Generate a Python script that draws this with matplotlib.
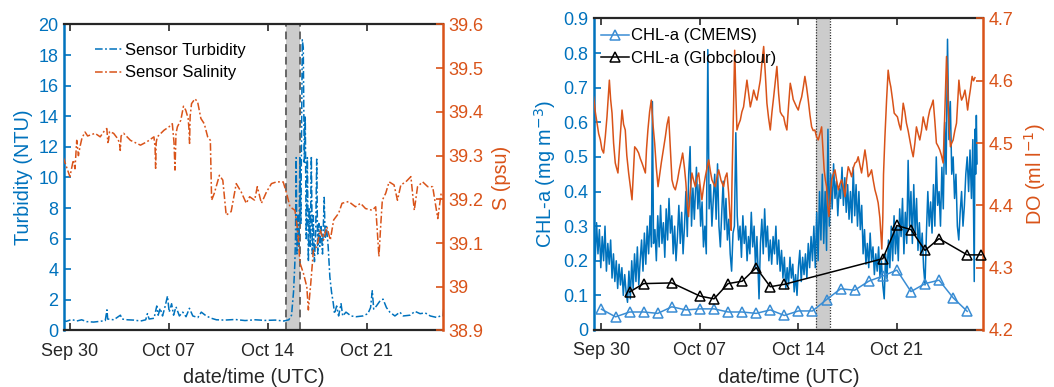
import numpy as np
import matplotlib
matplotlib.use("Agg")
import matplotlib.pyplot as plt
import matplotlib.dates as mdates
from matplotlib.ticker import FuncFormatter

plt.rcParams['font.family'] = ['Liberation Sans', 'DejaVu Sans']

# ---------------- data (days since 30 Sep, values) ----------------
START = np.datetime64('2019-09-30T00:00')

turbidity = [(-0.48, 0.65), (-0.24, 0.60), (0.12, 0.72), (0.48, 0.62), (0.83, 0.70), (1.19, 0.58),
             (1.67, 0.55), (2.14, 0.60), (2.50, 0.65), (2.62, 1.35), (2.67, 0.75), (3.10, 0.70),
             (3.57, 1.00), (3.69, 0.75), (4.05, 0.70), (4.52, 0.68), (5.00, 0.62), (5.36, 0.70),
             (5.48, 1.10), (5.60, 0.75), (5.95, 0.80), (6.14, 1.60), (6.24, 1.00), (6.38, 1.45),
             (6.55, 0.95), (6.71, 1.50), (6.90, 2.25), (7.02, 1.20), (7.19, 1.75), (7.33, 1.00),
             (7.50, 1.55), (7.74, 0.95), (7.98, 1.20), (8.21, 0.90), (8.45, 1.45), (8.69, 0.95),
             (9.05, 0.85), (9.29, 1.20), (9.64, 0.95), (10.00, 0.80), (10.36, 0.70), (10.95, 0.68),
             (11.67, 0.72), (12.38, 0.65), (13.10, 0.70), (13.81, 0.66), (14.52, 0.68), (15.12, 0.62),
             (15.48, 0.70), (15.67, 1.00), (15.81, 2.50), (15.90, 4.30), (15.95, 6.00), (16.00, 11.3),
             (16.05, 5.00), (16.12, 7.50), (16.19, 5.50), (16.26, 11.3), (16.33, 7.00), (16.43, 19.0),
             (16.50, 18.5), (16.57, 11.0), (16.64, 14.0), (16.71, 6.00), (16.79, 11.3), (16.86, 4.50),
             (16.93, 8.00), (17.00, 5.50), (17.07, 11.4), (17.14, 5.00), (17.21, 7.50), (17.29, 4.50),
             (17.38, 6.50), (17.45, 11.2), (17.52, 5.00), (17.60, 7.00), (17.67, 5.50), (17.76, 6.80),
             (17.86, 5.00), (17.98, 8.70), (18.05, 6.00), (18.14, 6.80), (18.26, 5.50), (18.38, 3.50),
             (18.50, 2.50), (18.62, 1.80), (18.71, 1.10), (18.86, 1.60), (19.00, 0.95), (19.17, 1.75),
             (19.29, 0.95), (19.52, 1.20), (19.88, 0.95), (20.24, 0.90), (20.71, 0.95), (21.07, 1.10),
             (21.26, 1.50), (21.38, 2.60), (21.48, 1.40), (21.67, 1.60), (21.90, 1.90), (22.14, 2.05),
             (22.38, 1.50), (22.62, 1.20), (22.98, 0.95), (23.33, 1.20), (23.57, 0.95), (24.05, 1.00),
             (24.40, 1.25), (24.76, 1.10), (25.12, 1.15), (25.48, 0.95), (25.95, 0.85), (26.19, 0.95),
             (26.38, 0.95), (26.48, 1.90)]

salinity = [(-0.48, 39.297), (-0.24, 39.274), (0.00, 39.252), (0.24, 39.290), (0.36, 39.270), (0.48, 39.335),
            (0.60, 39.300), (0.71, 39.320), (0.85, 39.340), (1.07, 39.354), (1.25, 39.345), (1.43, 39.347),
            (1.78, 39.351), (2.14, 39.343), (2.40, 39.355), (2.61, 39.362), (2.68, 39.330), (2.73, 39.335),
            (2.80, 39.355), (3.09, 39.351), (3.35, 39.340), (3.50, 39.330), (3.56, 39.312), (3.62, 39.345),
            (3.80, 39.351), (4.28, 39.335), (4.99, 39.324), (5.46, 39.332), (5.94, 39.343), (6.02, 39.320),
            (6.06, 39.271), (6.10, 39.330), (6.18, 39.343), (6.40, 39.350), (6.65, 39.358), (7.01, 39.366),
            (7.24, 39.373), (7.36, 39.330), (7.43, 39.267), (7.50, 39.350), (7.60, 39.366), (7.84, 39.381),
            (8.03, 39.413), (8.19, 39.404), (8.36, 39.385), (8.42, 39.360), (8.46, 39.328), (8.50, 39.390),
            (8.60, 39.419), (8.84, 39.430), (9.03, 39.423), (9.26, 39.385), (9.50, 39.373), (9.74, 39.343),
            (9.93, 39.335), (10.02, 39.198), (10.21, 39.214), (10.57, 39.255), (10.81, 39.244), (11.05, 39.164),
            (11.40, 39.172), (11.76, 39.236), (12.11, 39.217), (12.47, 39.191), (12.71, 39.206), (13.06, 39.198),
            (13.25, 39.229), (13.54, 39.191), (13.90, 39.217), (14.25, 39.236), (14.61, 39.240), (15.08, 39.240),
            (15.32, 39.214), (15.56, 39.183), (15.91, 39.175), (16.10, 39.130), (16.27, 39.054), (16.51, 39.031),
            (16.75, 39.000), (16.86, 38.947), (17.03, 39.008), (17.22, 39.084), (17.46, 39.092), (17.70, 39.130),
            (17.93, 39.107), (18.17, 39.137), (18.41, 39.107), (18.65, 39.153), (19.00, 39.168), (19.24, 39.191),
            (19.71, 39.195), (20.19, 39.183), (20.55, 39.191), (20.90, 39.179), (21.38, 39.175), (21.62, 39.183),
            (21.73, 39.130), (21.85, 39.069), (21.97, 39.137), (22.09, 39.198), (22.33, 39.214), (22.57, 39.240),
            (22.92, 39.233), (23.16, 39.198), (23.40, 39.233), (23.75, 39.240), (24.11, 39.252), (24.35, 39.175),
            (24.58, 39.229), (24.94, 39.240), (25.30, 39.229), (25.65, 39.229), (26.01, 39.156), (26.25, 39.214),
            (26.38, 39.210)]

chl_sensor = [(-0.53, 0.30), (-0.45, 0.20), (-0.35, 0.31), (-0.25, 0.22), (-0.15, 0.29), (-0.05, 0.18),
              (0.05, 0.27), (0.15, 0.20), (0.25, 0.30), (0.35, 0.17), (0.45, 0.25), (0.55, 0.19),
              (0.65, 0.26), (0.75, 0.15), (0.85, 0.22), (0.95, 0.14), (1.05, 0.20), (1.15, 0.12),
              (1.25, 0.19), (1.35, 0.13), (1.45, 0.18), (1.55, 0.10), (1.65, 0.16), (1.75, 0.11),
              (1.85, 0.08), (1.95, 0.17), (2.05, 0.09), (2.15, 0.20), (2.25, 0.12), (2.35, 0.22),
              (2.45, 0.14), (2.55, 0.24), (2.65, 0.13), (2.75, 0.20), (2.85, 0.26), (2.95, 0.17),
              (3.05, 0.28), (3.15, 0.19), (3.25, 0.30), (3.35, 0.22), (3.45, 0.33), (3.55, 0.24),
              (3.62, 0.66), (3.70, 0.25), (3.80, 0.29), (3.90, 0.20), (4.00, 0.33), (4.10, 0.24),
              (4.20, 0.36), (4.30, 0.25), (4.40, 0.31), (4.50, 0.21), (4.60, 0.35), (4.70, 0.26),
              (4.80, 0.38), (4.90, 0.28), (5.00, 0.33), (5.10, 0.22), (5.20, 0.30), (5.30, 0.20),
              (5.40, 0.27), (5.50, 0.36), (5.60, 0.25), (5.70, 0.34), (5.80, 0.22), (5.90, 0.30),
              (6.00, 0.40), (6.10, 0.27), (6.20, 0.45), (6.30, 0.53), (6.40, 0.30), (6.50, 0.41),
              (6.60, 0.32), (6.75, 0.47), (6.85, 0.35), (6.95, 0.42), (7.05, 0.30), (7.15, 0.37),
              (7.25, 0.24), (7.35, 0.30), (7.45, 0.22), (7.56, 0.81), (7.65, 0.35), (7.75, 0.42),
              (7.85, 0.30), (7.95, 0.38), (8.05, 0.45), (8.15, 0.32), (8.25, 0.48), (8.35, 0.30),
              (8.45, 0.24), (8.55, 0.34), (8.65, 0.43), (8.75, 0.29), (8.85, 0.38), (8.95, 0.26),
              (9.05, 0.32), (9.15, 0.22), (9.25, 0.17), (9.35, 0.28), (9.45, 0.30), (9.55, 0.57),
              (9.65, 0.33), (9.75, 0.26), (9.85, 0.30), (9.95, 0.21), (10.05, 0.33), (10.15, 0.25),
              (10.25, 0.30), (10.35, 0.20), (10.45, 0.27), (10.55, 0.22), (10.65, 0.34), (10.75, 0.24),
              (10.85, 0.30), (10.95, 0.18), (11.05, 0.27), (11.20, 0.09), (11.30, 0.25), (11.40, 0.32),
              (11.50, 0.22), (11.60, 0.35), (11.70, 0.24), (11.80, 0.30), (11.90, 0.20), (12.00, 0.26),
              (12.10, 0.19), (12.20, 0.27), (12.30, 0.22), (12.40, 0.30), (12.50, 0.19), (12.60, 0.26),
              (12.70, 0.17), (12.80, 0.23), (12.90, 0.15), (13.00, 0.21), (13.10, 0.12), (13.20, 0.18),
              (13.30, 0.13), (13.40, 0.21), (13.50, 0.15), (13.60, 0.19), (13.70, 0.11), (13.80, 0.16),
              (13.90, 0.10), (14.00, 0.18), (14.10, 0.23), (14.20, 0.14), (14.30, 0.21), (14.40, 0.16),
              (14.50, 0.22), (14.60, 0.15), (14.70, 0.25), (14.80, 0.18), (14.90, 0.27), (15.00, 0.20),
              (15.10, 0.30), (15.20, 0.18), (15.30, 0.34), (15.40, 0.20), (15.50, 0.40), (15.60, 0.26),
              (15.70, 0.45), (15.80, 0.25), (15.90, 0.40), (16.00, 0.23), (16.10, 0.58), (16.20, 0.30),
              (16.30, 0.45), (16.40, 0.35), (16.50, 0.48), (16.60, 0.38), (16.70, 0.43), (16.80, 0.33),
              (16.90, 0.41), (17.00, 0.38), (17.10, 0.47), (17.20, 0.36), (17.30, 0.44), (17.40, 0.34),
              (17.50, 0.42), (17.60, 0.32), (17.70, 0.40), (17.80, 0.31), (17.90, 0.47), (18.00, 0.33),
              (18.10, 0.42), (18.20, 0.30), (18.30, 0.40), (18.40, 0.29), (18.50, 0.36), (18.60, 0.22),
              (18.70, 0.29), (18.80, 0.19), (18.90, 0.25), (19.00, 0.18), (19.10, 0.28), (19.20, 0.20),
              (19.30, 0.24), (19.40, 0.16), (19.50, 0.22), (19.60, 0.17), (19.70, 0.24), (19.80, 0.15),
              (19.90, 0.20), (20.00, 0.13), (20.10, 0.09), (20.20, 0.22), (20.30, 0.15), (20.40, 0.26),
              (20.50, 0.18), (20.60, 0.30), (20.70, 0.20), (20.80, 0.33), (20.90, 0.22), (21.00, 0.30),
              (21.10, 0.20), (21.20, 0.35), (21.30, 0.27), (21.40, 0.38), (21.50, 0.22), (21.60, 0.34),
              (21.70, 0.25), (21.80, 0.49), (21.90, 0.30), (22.00, 0.40), (22.10, 0.25), (22.20, 0.42),
              (22.30, 0.28), (22.40, 0.38), (22.50, 0.23), (22.60, 0.31), (22.70, 0.22), (22.80, 0.28),
              (22.90, 0.18), (23.00, 0.13), (23.10, 0.28), (23.20, 0.40), (23.30, 0.30), (23.40, 0.37),
              (23.50, 0.28), (23.60, 0.42), (23.70, 0.30), (23.80, 0.50), (23.90, 0.36), (24.00, 0.40),
              (24.10, 0.30), (24.20, 0.47), (24.30, 0.35), (24.40, 0.60), (24.50, 0.45), (24.60, 0.84),
              (24.70, 0.55), (24.80, 0.66), (24.90, 0.45), (25.00, 0.50), (25.10, 0.38), (25.20, 0.45),
              (25.30, 0.30), (25.40, 0.26), (25.50, 0.34), (25.60, 0.40), (25.70, 0.30), (25.80, 0.36),
              (25.90, 0.45), (26.00, 0.50), (26.10, 0.40), (26.20, 0.52), (26.30, 0.38), (26.40, 0.55),
              (26.50, 0.14), (26.55, 0.58), (26.60, 0.45), (26.65, 0.62), (26.70, 0.48)]

dissolved_oxygen = [(-0.56, 4.574), (-0.44, 4.550), (-0.32, 4.532), (-0.20, 4.515), (-0.08, 4.505), (0.03, 4.490),
                    (0.15, 4.484), (0.27, 4.510), (0.39, 4.542), (0.47, 4.570), (0.56, 4.601), (0.65, 4.570),
                    (0.75, 4.548), (0.86, 4.500), (0.98, 4.468), (1.07, 4.460), (1.17, 4.452), (1.30, 4.500),
                    (1.46, 4.553), (1.57, 4.530), (1.69, 4.521), (1.80, 4.480), (1.93, 4.452), (2.05, 4.430),
                    (2.17, 4.409), (2.26, 4.450), (2.36, 4.494), (2.50, 4.490), (2.64, 4.484), (2.76, 4.475),
                    (2.88, 4.468), (3.00, 4.460), (3.12, 4.452), (3.20, 4.490), (3.30, 4.521), (3.42, 4.550),
                    (3.54, 4.569), (3.66, 4.530), (3.78, 4.500), (3.90, 4.460), (4.02, 4.430), (4.14, 4.450),
                    (4.25, 4.468), (4.40, 4.490), (4.54, 4.510), (4.66, 4.530), (4.78, 4.542), (4.90, 4.490),
                    (5.01, 4.441), (5.13, 4.430), (5.25, 4.425), (5.40, 4.440), (5.53, 4.457), (5.65, 4.470),
                    (5.77, 4.484), (5.90, 4.460), (6.00, 4.436), (6.10, 4.400), (6.19, 4.382), (6.30, 4.420),
                    (6.43, 4.452), (6.55, 4.440), (6.67, 4.430), (6.80, 4.445), (6.91, 4.452), (7.02, 4.430),
                    (7.14, 4.409), (7.26, 4.430), (7.38, 4.446), (7.50, 4.460), (7.62, 4.473), (7.74, 4.455),
                    (7.85, 4.441), (7.97, 4.435), (8.09, 4.430), (8.21, 4.445), (8.33, 4.457), (8.50, 4.440),
                    (8.68, 4.430), (8.80, 4.445), (8.92, 4.452), (9.04, 4.420), (9.16, 4.372), (9.22, 4.360),
                    (9.28, 4.440), (9.38, 4.550), (9.47, 4.649), (9.55, 4.580), (9.63, 4.521), (9.75, 4.530),
                    (9.87, 4.537), (9.98, 4.550), (10.10, 4.558), (10.22, 4.580), (10.34, 4.601), (10.46, 4.580),
                    (10.58, 4.558), (10.70, 4.570), (10.82, 4.585), (10.94, 4.575), (11.05, 4.569), (11.17, 4.585),
                    (11.29, 4.601), (11.41, 4.630), (11.53, 4.655), (11.65, 4.610), (11.76, 4.564), (11.88, 4.540),
                    (12.00, 4.521), (12.12, 4.550), (12.24, 4.574), (12.36, 4.600), (12.47, 4.623), (12.59, 4.580),
                    (12.71, 4.550), (12.83, 4.545), (12.95, 4.542), (13.06, 4.530), (13.18, 4.521), (13.30, 4.560),
                    (13.42, 4.596), (13.52, 4.585), (13.63, 4.570), (13.75, 4.564), (13.87, 4.558), (13.99, 4.553),
                    (14.11, 4.565), (14.23, 4.574), (14.35, 4.590), (14.46, 4.607), (14.58, 4.590), (14.70, 4.569),
                    (14.82, 4.545), (14.94, 4.526), (15.05, 4.520), (15.17, 4.521), (15.29, 4.510), (15.41, 4.505),
                    (15.53, 4.515), (15.65, 4.526), (15.74, 4.490), (15.83, 4.457), (15.92, 4.440), (16.00, 4.430),
                    (16.08, 4.400), (16.17, 4.382), (16.26, 4.410), (16.36, 4.441), (16.48, 4.450), (16.60, 4.457),
                    (16.72, 4.440), (16.84, 4.425), (16.96, 4.435), (17.07, 4.441), (17.19, 4.430), (17.31, 4.414),
                    (17.42, 4.440), (17.54, 4.462), (17.66, 4.455), (17.78, 4.446), (17.90, 4.460), (18.02, 4.468),
                    (18.14, 4.470), (18.25, 4.478), (18.37, 4.465), (18.49, 4.452), (18.61, 4.470), (18.73, 4.489),
                    (18.85, 4.470), (18.96, 4.446), (19.08, 4.450), (19.20, 4.457), (19.32, 4.440), (19.44, 4.425),
                    (19.56, 4.415), (19.67, 4.404), (19.79, 4.380), (19.87, 4.350), (19.93, 4.330), (20.00, 4.380),
                    (20.05, 4.450), (20.15, 4.510), (20.27, 4.570), (20.38, 4.617), (20.48, 4.600), (20.57, 4.590),
                    (20.69, 4.570), (20.81, 4.548), (20.93, 4.545), (21.04, 4.542), (21.16, 4.530), (21.28, 4.521),
                    (21.36, 4.540), (21.45, 4.564), (21.57, 4.550), (21.68, 4.532), (21.80, 4.520), (21.92, 4.505),
                    (22.04, 4.490), (22.16, 4.478), (22.28, 4.500), (22.39, 4.526), (22.51, 4.515), (22.63, 4.505),
                    (22.75, 4.520), (22.87, 4.542), (22.99, 4.530), (23.10, 4.521), (23.22, 4.540), (23.34, 4.553),
                    (23.46, 4.560), (23.58, 4.569), (23.70, 4.535), (23.81, 4.500), (23.93, 4.495), (24.05, 4.489),
                    (24.17, 4.480), (24.29, 4.468), (24.41, 4.550), (24.53, 4.639), (24.60, 4.600), (24.65, 4.560),
                    (24.73, 4.520), (24.81, 4.494), (24.90, 4.500), (25.00, 4.505), (25.12, 4.520), (25.24, 4.532),
                    (25.33, 4.570), (25.41, 4.601), (25.50, 4.580), (25.60, 4.569), (25.72, 4.575), (25.84, 4.585),
                    (25.94, 4.570), (26.03, 4.553), (26.12, 4.570), (26.22, 4.585), (26.35, 4.607), (26.45, 4.600),
                    (26.55, 4.605)]

cmems_days = [0, 1, 2, 3, 4, 5, 6, 7, 8, 9, 10, 11, 12, 13, 14, 15, 16, 17, 18, 19, 20, 21, 22, 23, 24, 25, 26]
cmems_chl = [0.060, 0.038, 0.052, 0.052, 0.048, 0.067, 0.058, 0.061, 0.061, 0.052, 0.052, 0.048, 0.058, 0.042,
             0.055, 0.055, 0.088, 0.119, 0.115, 0.141, 0.156, 0.173, 0.111, 0.134, 0.144, 0.093, 0.054]

globcolour_days = [2, 3, 5, 7, 8, 9, 10, 11, 12, 13, 20, 21, 22, 23, 24, 26, 27]
globcolour_chl = [0.110, 0.134, 0.136, 0.098, 0.090, 0.134, 0.141, 0.180, 0.125, 0.132, 0.206, 0.302, 0.290,
                  0.230, 0.264, 0.217, 0.217]

event_window = (15.27, 16.25)          # shaded period (days since 30 Sep)
date_ticks = [0, 7, 14, 21]

# ---------------- helpers ----------------
def to_dates(days):
    return START + (np.asarray(days, dtype=float) * 86400).astype('timedelta64[s]')

def split(pairs):
    a = np.array(pairs, dtype=float)
    return to_dates(a[:, 0]), a[:, 1]

BLUE = '#0072BD'
ORANGE = '#D95319'
LBLUE = '#3A8DD4'
DARK = (0.15, 0.15, 0.15)
GRAY = (0.8, 0.8, 0.8)
TICK_FS = 13
LAB_FS = 14.3
LEG_FS = 12

fig = plt.figure(figsize=(10.54, 3.87), dpi=100)


def style(ax, ax2, xlim):
    ax.set_xlim(to_dates(xlim[0]), to_dates(xlim[1]))
    ax.set_xticks(to_dates(date_ticks))
    ax.xaxis.set_major_formatter(mdates.DateFormatter('%b %d'))
    for sp in ('top', 'bottom'):
        ax.spines[sp].set_color(DARK)
        ax.spines[sp].set_linewidth(1.6)
    ax.spines['left'].set_color(BLUE)
    ax.spines['left'].set_linewidth(1.8)
    ax.spines['right'].set_visible(False)
    for sp in ('top', 'bottom', 'left'):
        ax2.spines[sp].set_visible(False)
    ax2.spines['right'].set_color(ORANGE)
    ax2.spines['right'].set_linewidth(1.8)
    ax.tick_params(axis='x', direction='in', top=True, length=5, width=1.2, colors=DARK,
                   labelsize=TICK_FS, pad=9)
    ax.tick_params(axis='y', direction='in', length=5, width=1.2, colors=BLUE,
                   labelsize=TICK_FS, pad=4)
    ax2.tick_params(axis='y', direction='in', length=5, width=1.2, colors=ORANGE,
                    labelsize=TICK_FS, pad=4)
    ax.set_xlabel('date/time (UTC)', fontsize=LAB_FS, color=DARK, labelpad=6)


# ================= left panel =================
axL = fig.add_axes([0.0607, 0.146, 0.3596, 0.7907])
axL2 = axL.twinx()
axL.axvspan(to_dates(event_window[0]), to_dates(event_window[1]), color=GRAY, lw=0, zorder=0)
for e in event_window:
    axL.axvline(to_dates(e), color=(0.4, 0.4, 0.4), lw=1.4, ls=(0, (4, 2.5)), zorder=1)

t_tu, v_tu = split(turbidity)
t_sa, v_sa = split(salinity)
dashdot = (0, (5, 1.6, 1.2, 1.6))
hT, = axL.plot(t_tu, v_tu, color=BLUE, lw=1.1, ls=dashdot, zorder=2)
hS, = axL2.plot(t_sa, v_sa, color=ORANGE, lw=1.1, ls=dashdot, zorder=2)

axL.set_ylim(0, 20)
axL.set_yticks(np.arange(0, 21, 2))
axL2.set_ylim(38.9, 39.6)
axL2.set_yticks(np.round(np.arange(38.9, 39.61, 0.1), 1))
axL2.yaxis.set_major_formatter(FuncFormatter(lambda v, p: '%g' % round(v, 1)))
style(axL, axL2, (-0.42, 26.38))
axL.set_ylabel('Turbidity (NTU)', fontsize=LAB_FS, color=BLUE, labelpad=4)
axL2.set_ylabel('S (psu)', fontsize=LAB_FS, color=ORANGE, labelpad=6, rotation=90)
axL2.legend([hT, hS], ['Sensor Turbidity', 'Sensor Salinity'], loc='upper left',
            bbox_to_anchor=(0.082, 0.94), frameon=False, fontsize=LEG_FS, borderpad=0,
            borderaxespad=0, handlelength=1.65, handletextpad=0.15, labelspacing=0.45)

# ================= right panel =================
axR = fig.add_axes([0.5636, 0.1473, 0.369, 0.805])
axR2 = axR.twinx()
axR.axvspan(to_dates(event_window[0]), to_dates(event_window[1]), color=GRAY, lw=0, zorder=0)
for e in event_window:
    axR.axvline(to_dates(e), color=(0.2, 0.2, 0.2), lw=0.9, ls=(0, (1, 1.2)), zorder=1)

t_cs, v_cs = split(chl_sensor)
t_do, v_do = split(dissolved_oxygen)
axR.plot(t_cs, v_cs, color=BLUE, lw=1.1, zorder=2)
axR2.plot(t_do, v_do, color=ORANGE, lw=1.1, zorder=2)
hC, = axR2.plot(to_dates(cmems_days), cmems_chl, color=LBLUE, lw=1.1, marker='^', ms=6.5,
                mfc='none', mew=1.1, transform=axR.transData, zorder=3, clip_on=False)
hG, = axR2.plot(to_dates(globcolour_days), globcolour_chl, color='black', lw=1.1, marker='^', ms=6.5,
                mfc='none', mew=1.1, transform=axR.transData, zorder=4, clip_on=False)

axR.set_ylim(0, 0.9)
axR.set_yticks(np.round(np.arange(0, 0.91, 0.1), 1))
axR.yaxis.set_major_formatter(FuncFormatter(lambda v, p: '%g' % round(v, 1)))
axR2.set_ylim(4.2, 4.7)
axR2.set_yticks(np.round(np.arange(4.2, 4.71, 0.1), 1))
axR2.yaxis.set_major_formatter(FuncFormatter(lambda v, p: '%g' % round(v, 1)))
style(axR, axR2, (-0.53, 27.12))
axR.set_ylabel('CHL-a (mg m$^{-3}$)', fontsize=LAB_FS, color=BLUE, labelpad=4)
axR2.set_ylabel('DO (ml l$^{-1}$)', fontsize=LAB_FS, color=ORANGE, labelpad=6, rotation=90)
axR2.legend([hC, hG], ['CHL-a (CMEMS)', 'CHL-a (Globcolour)'], loc='upper left',
            bbox_to_anchor=(0.019, 0.968), frameon=False, fontsize=LEG_FS, borderpad=0,
            borderaxespad=0, handlelength=1.65, handletextpad=0.15, labelspacing=0.45)

fig.savefig('out.png', dpi=100)
